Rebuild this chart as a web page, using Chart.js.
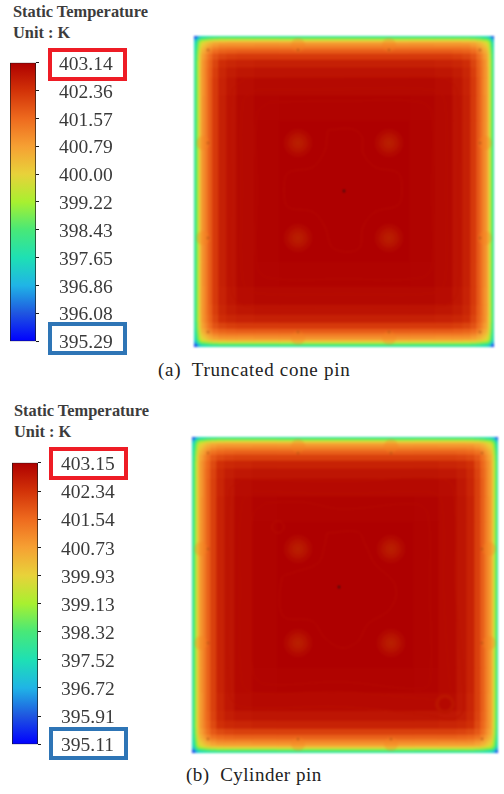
<!DOCTYPE html>
<html><head><meta charset="utf-8">
<script src="https://cdn.jsdelivr.net/npm/chart.js@4"></script>
<style>
html,body{margin:0;padding:0;background:#fff;width:504px;height:794px;overflow:hidden}
canvas{position:absolute;display:block}
.t{position:absolute;font-family:"Liberation Serif",serif;white-space:pre}
.title{font-weight:bold;font-size:16.4px;color:#3c3c3c;line-height:21px}
.cap{font-size:19px;color:#222}
.box{position:absolute;box-sizing:border-box;border-width:4px;border-style:solid;z-index:3}
.red{border-color:#ee1c25}.blue{border-color:#2e75b6}
.field{filter:blur(.9px)}
</style></head><body>
<div class="t title" style="left:13px;top:1px">Static Temperature
Unit : K</div>
<div class="t title" style="left:14px;top:400px">Static Temperature
Unit : K</div>
<div class="box red" style="left:48px;top:48px;width:79px;height:33px"></div>
<div class="box blue" style="left:48px;top:322px;width:79px;height:33px"></div>
<div class="box red" style="left:49px;top:447px;width:79px;height:33px"></div>
<div class="box blue" style="left:49px;top:727px;width:79px;height:33px"></div>
<div class="t cap" style="left:158px;top:359px;letter-spacing:.7px">(a)  Truncated cone pin</div>
<div class="t cap" style="left:186px;top:764px;letter-spacing:.5px">(b)  Cylinder pin</div>
<canvas id="barA" width="130" height="342" style="left:0;top:31px"></canvas>
<canvas id="barB" width="132" height="345" style="left:0;top:431px"></canvas>
<canvas id="fieldA" class="field" width="300" height="311" style="left:194px;top:36px"></canvas>
<canvas id="fieldB" class="field" width="306" height="316" style="left:192px;top:437px"></canvas>
<script>
const ticksA=[403.14,402.36,401.57,400.79,400.00,399.22,398.43,397.65,396.86,396.08,395.29];
const ticksB=[403.15,402.34,401.54,400.73,399.93,399.13,398.32,397.52,396.72,395.91,395.11];
const rampColours=['#0000ff','#1f55e0','#20b4e6','#1ee0b4','#48e878','#a8f030','#e8d23a','#f6a033','#ee6a1e','#d23208','#ae0000'];

const xEdgesA=[0,2,4,6,8,11,14,18,24,32,42,60,85,215,240,258,268,276,282,286,289,292,294,296,298,300];
const yEdgesA=[0,2,4,6,8,11,14,18,24,32,42,60,85,226,251,269,279,287,293,297,300,303,305,307,309,311];
const xEdgesB=[0,2,4,6,8,11,14,18,24,32,42,60,85,221,246,264,274,282,288,292,295,298,300,302,304,306];
const yEdgesB=[0,2,4,6,8,11,14,18,24,32,42,60,85,231,256,274,284,292,298,302,305,308,310,312,314,316];

const tempA=[
[395.9,396.5,397.1,397.45,397.6,397.7,397.8,397.9,398,398,398,398,398,398,398,398,398,397.9,397.8,397.7,397.6,397.45,397.1,396.5,395.9],
[396.5,397.3,397.95,398.35,398.5,398.65,398.8,398.9,399,399,399,399,399,399,399,399,399,398.9,398.8,398.65,398.5,398.35,397.95,397.3,396.5],
[397.1,397.95,398.7,399.15,399.35,399.55,399.7,399.9,399.95,400,400,400,400,400,400,400,399.95,399.9,399.7,399.55,399.35,399.15,398.7,397.95,397.1],
[397.45,398.35,399.15,399.7,399.9,400.15,400.35,400.55,400.65,400.7,400.7,400.7,400.7,400.7,400.7,400.7,400.65,400.55,400.35,400.15,399.9,399.7,399.15,398.35,397.45],
[397.6,398.5,399.35,399.9,400.15,400.4,400.65,400.85,401,401,401,401.05,401.05,401.05,401,401,401,400.85,400.65,400.4,400.15,399.9,399.35,398.5,397.6],
[397.7,398.65,399.55,400.15,400.4,400.7,400.95,401.2,401.35,401.4,401.4,401.4,401.4,401.4,401.4,401.4,401.35,401.2,400.95,400.7,400.4,400.15,399.55,398.65,397.7],
[397.8,398.8,399.7,400.35,400.65,400.95,401.25,401.55,401.7,401.75,401.8,401.8,401.8,401.8,401.8,401.75,401.7,401.55,401.25,400.95,400.65,400.35,399.7,398.8,397.8],
[397.9,398.9,399.9,400.55,400.85,401.2,401.55,401.9,402.1,402.2,402.25,402.25,402.25,402.25,402.25,402.2,402.1,401.9,401.55,401.2,400.85,400.55,399.9,398.9,397.9],
[398,399,399.95,400.65,401,401.35,401.7,402.1,402.45,402.55,402.6,402.64,402.64,402.64,402.6,402.55,402.45,402.1,401.7,401.35,401,400.65,399.95,399,398],
[398,399,400,400.7,401,401.4,401.75,402.2,402.55,402.7,402.8,402.84,402.84,402.84,402.8,402.7,402.55,402.2,401.75,401.4,401,400.7,400,399,398],
[398,399,400,400.7,401,401.4,401.8,402.25,402.6,402.8,402.95,403,403,403,402.95,402.8,402.6,402.25,401.8,401.4,401,400.7,400,399,398],
[398,399,400,400.7,401.05,401.4,401.8,402.25,402.64,402.84,403,403.08,403.1,403.08,403,402.84,402.64,402.25,401.8,401.4,401.05,400.7,400,399,398],
[398,399,400,400.7,401.05,401.4,401.8,402.25,402.64,402.84,403,403.1,403.14,403.1,403,402.84,402.64,402.25,401.8,401.4,401.05,400.7,400,399,398],
[398,399,400,400.7,401.05,401.4,401.8,402.25,402.64,402.84,403,403.08,403.1,403.08,403,402.84,402.64,402.25,401.8,401.4,401.05,400.7,400,399,398],
[398,399,400,400.7,401,401.4,401.8,402.25,402.6,402.8,402.95,403,403,403,402.95,402.8,402.6,402.25,401.8,401.4,401,400.7,400,399,398],
[398,399,400,400.7,401,401.4,401.75,402.2,402.55,402.7,402.8,402.84,402.84,402.84,402.8,402.7,402.55,402.2,401.75,401.4,401,400.7,400,399,398],
[398,399,399.95,400.65,401,401.35,401.7,402.1,402.45,402.55,402.6,402.64,402.64,402.64,402.6,402.55,402.45,402.1,401.7,401.35,401,400.65,399.95,399,398],
[397.9,398.9,399.9,400.55,400.85,401.2,401.55,401.9,402.1,402.2,402.25,402.25,402.25,402.25,402.25,402.2,402.1,401.9,401.55,401.2,400.85,400.55,399.9,398.9,397.9],
[397.8,398.8,399.7,400.35,400.65,400.95,401.25,401.55,401.7,401.75,401.8,401.8,401.8,401.8,401.8,401.75,401.7,401.55,401.25,400.95,400.65,400.35,399.7,398.8,397.8],
[397.7,398.65,399.55,400.15,400.4,400.7,400.95,401.2,401.35,401.4,401.4,401.4,401.4,401.4,401.4,401.4,401.35,401.2,400.95,400.7,400.4,400.15,399.55,398.65,397.7],
[397.6,398.5,399.35,399.9,400.15,400.4,400.65,400.85,401,401,401,401.05,401.05,401.05,401,401,401,400.85,400.65,400.4,400.15,399.9,399.35,398.5,397.6],
[397.45,398.35,399.15,399.7,399.9,400.15,400.35,400.55,400.65,400.7,400.7,400.7,400.7,400.7,400.7,400.7,400.65,400.55,400.35,400.15,399.9,399.7,399.15,398.35,397.45],
[397.1,397.95,398.7,399.15,399.35,399.55,399.7,399.9,399.95,400,400,400,400,400,400,400,399.95,399.9,399.7,399.55,399.35,399.15,398.7,397.95,397.1],
[396.5,397.3,397.95,398.35,398.5,398.65,398.8,398.9,399,399,399,399,399,399,399,399,399,398.9,398.8,398.65,398.5,398.35,397.95,397.3,396.5],
[395.8,396.5,397.1,397.45,397.6,397.7,397.8,397.9,398,398,398,398,398,398,398,398,398,397.9,397.8,397.7,397.6,397.45,397.1,396.5,395.7]
];
const tempB=[
[395.8,396.4,397,397.35,397.5,397.6,397.7,397.8,397.9,397.9,397.9,397.9,397.9,397.9,397.9,397.9,397.9,397.8,397.7,397.6,397.5,397.35,397,396.4,395.7],
[396.4,397.2,397.85,398.25,398.4,398.55,398.7,398.8,398.9,398.9,398.9,398.9,398.9,398.9,398.9,398.9,398.9,398.8,398.7,398.55,398.4,398.25,397.85,397.2,396.4],
[397,397.85,398.6,399.05,399.25,399.45,399.6,399.8,399.85,399.9,399.9,399.9,399.9,399.9,399.9,399.9,399.85,399.8,399.6,399.45,399.25,399.05,398.6,397.85,397],
[397.35,398.25,399.05,399.6,399.8,400.05,400.25,400.45,400.55,400.6,400.6,400.6,400.6,400.6,400.6,400.6,400.55,400.45,400.25,400.05,399.8,399.6,399.05,398.25,397.35],
[397.5,398.4,399.25,399.8,400.05,400.3,400.55,400.75,400.9,400.9,400.9,400.95,400.95,400.95,400.9,400.9,400.9,400.75,400.55,400.3,400.05,399.8,399.25,398.4,397.5],
[397.6,398.55,399.45,400.05,400.3,400.6,400.85,401.1,401.25,401.3,401.3,401.3,401.3,401.3,401.3,401.3,401.25,401.1,400.85,400.6,400.3,400.05,399.45,398.55,397.6],
[397.7,398.7,399.6,400.25,400.55,400.85,401.15,401.45,401.6,401.65,401.7,401.7,401.7,401.7,401.7,401.65,401.6,401.45,401.15,400.85,400.55,400.25,399.6,398.7,397.7],
[397.8,398.8,399.8,400.45,400.75,401.1,401.45,401.8,402,402.1,402.15,402.15,402.15,402.15,402.15,402.1,402,401.8,401.45,401.1,400.75,400.45,399.8,398.8,397.8],
[397.9,398.9,399.85,400.55,400.9,401.25,401.6,402,402.4,402.5,402.55,402.6,402.6,402.6,402.55,402.5,402.4,402,401.6,401.25,400.9,400.55,399.85,398.9,397.9],
[397.9,398.9,399.9,400.6,400.9,401.3,401.65,402.1,402.5,402.68,402.78,402.82,402.82,402.82,402.78,402.68,402.5,402.1,401.65,401.3,400.9,400.6,399.9,398.9,397.9],
[397.9,398.9,399.9,400.6,400.9,401.3,401.7,402.15,402.55,402.78,402.95,403,403,403,402.95,402.78,402.55,402.15,401.7,401.3,400.9,400.6,399.9,398.9,397.9],
[397.9,398.9,399.9,400.6,400.95,401.3,401.7,402.15,402.6,402.82,403,403.08,403.1,403.08,403,402.82,402.6,402.15,401.7,401.3,400.95,400.6,399.9,398.9,397.9],
[397.9,398.9,399.9,400.6,400.95,401.3,401.7,402.15,402.6,402.82,403,403.1,403.15,403.1,403,402.82,402.6,402.15,401.7,401.3,400.95,400.6,399.9,398.9,397.9],
[397.9,398.9,399.9,400.6,400.95,401.3,401.7,402.15,402.6,402.82,403,403.08,403.1,403.08,403,402.82,402.6,402.15,401.7,401.3,400.95,400.6,399.9,398.9,397.9],
[397.9,398.9,399.9,400.6,400.9,401.3,401.7,402.15,402.55,402.78,402.95,403,403,403,402.95,402.78,402.55,402.15,401.7,401.3,400.9,400.6,399.9,398.9,397.9],
[397.9,398.9,399.9,400.6,400.9,401.3,401.65,402.1,402.5,402.68,402.78,402.82,402.82,402.82,402.78,402.68,402.5,402.1,401.65,401.3,400.9,400.6,399.9,398.9,397.9],
[397.9,398.9,399.85,400.55,400.9,401.25,401.6,402,402.4,402.5,402.55,402.6,402.6,402.6,402.55,402.5,402.4,402,401.6,401.25,400.9,400.55,399.85,398.9,397.9],
[397.8,398.8,399.8,400.45,400.75,401.1,401.45,401.8,402,402.1,402.15,402.15,402.15,402.15,402.15,402.1,402,401.8,401.45,401.1,400.75,400.45,399.8,398.8,397.8],
[397.7,398.7,399.6,400.25,400.55,400.85,401.15,401.45,401.6,401.65,401.7,401.7,401.7,401.7,401.7,401.65,401.6,401.45,401.15,400.85,400.55,400.25,399.6,398.7,397.7],
[397.6,398.55,399.45,400.05,400.3,400.6,400.85,401.1,401.25,401.3,401.3,401.3,401.3,401.3,401.3,401.3,401.25,401.1,400.85,400.6,400.3,400.05,399.45,398.55,397.6],
[397.5,398.4,399.25,399.8,400.05,400.3,400.55,400.75,400.9,400.9,400.9,400.95,400.95,400.95,400.9,400.9,400.9,400.75,400.55,400.3,400.05,399.8,399.25,398.4,397.5],
[397.35,398.25,399.05,399.6,399.8,400.05,400.25,400.45,400.55,400.6,400.6,400.6,400.6,400.6,400.6,400.6,400.55,400.45,400.25,400.05,399.8,399.6,399.05,398.25,397.35],
[397,397.85,398.6,399.05,399.25,399.45,399.6,399.8,399.85,399.9,399.9,399.9,399.9,399.9,399.9,399.9,399.85,399.8,399.6,399.45,399.25,399.05,398.6,397.85,397],
[396.4,397.2,397.85,398.25,398.4,398.55,398.7,398.8,398.9,398.9,398.9,398.9,398.9,398.9,398.9,398.9,398.9,398.8,398.7,398.55,398.4,398.25,397.85,397.2,396.4],
[395.7,396.4,397,397.35,397.5,397.6,397.7,397.8,397.9,397.9,397.9,397.9,397.9,397.9,397.9,397.9,397.9,397.8,397.7,397.6,397.5,397.35,397,396.4,395.7]
];

const pinsA=[{x:104,y:107},{x:195,y:107},{x:104,y:202},{x:195,y:202}];
const pinsB=[{x:106,y:112},{x:199,y:112},{x:106,y:206},{x:199,y:206}];
const edgePinsA=[{x:9,y:107},{x:9,y:202},{x:291,y:107},{x:291,y:202},{x:104,y:9},{x:195,y:9},{x:104,y:302},{x:195,y:302}];
const edgePinsB=[{x:9,y:112},{x:9,y:206},{x:297,y:112},{x:297,y:206},{x:106,y:9},{x:199,y:9},{x:106,y:307},{x:199,y:307}];
const marksA=[{x:14,y:14},{x:104,y:14},{x:195,y:14},{x:286,y:14},{x:14,y:107},{x:286,y:107},{x:14,y:202},{x:286,y:202},{x:14,y:296},{x:104,y:296},{x:195,y:296},{x:286,y:296}];
const marksB=[{x:16,y:16},{x:106,y:16},{x:199,y:16},{x:290,y:16},{x:16,y:112},{x:290,y:112},{x:16,y:206},{x:290,y:206},{x:16,y:302},{x:106,y:302},{x:199,y:302},{x:290,y:302}];
const centreA=[{x:150,y:155}];
const centreB=[{x:147,y:150}];
const hotSpotB=[{x:253,y:267}];
const ringB=[{x:86,y:90}];
const blobA=[[134,94],[158,93],[168,101],[169,117],[181,131],[204,137],[208,154],[204,169],[181,176],[169,191],[166,211],[154,216],[138,211],[131,191],[119,176],[94,171],[90,154],[94,137],[119,131],[131,114],[133,101],[134,94]];
const blobB=[[135,96],[166,95],[173,107],[183,127],[201,144],[204,159],[196,174],[176,187],[166,204],[150,211],[133,201],[120,184],[91,179],[90,141],[100,136],[126,126],[133,107],[135,96]];
const loopA1=[[75,66],[150,65],[226,66],[238,78],[238,154],[238,230],[226,242],[150,243],[75,242],[63,230],[63,154],[63,78],[75,66]];
const loopA2=[[62,54],[150,53],[239,54],[251,66],[252,154],[251,245],[239,257],[150,258],[62,257],[49,245],[48,154],[49,66],[62,54]];
const loopA3=[[52,42],[150,41],[249,42],[263,56],[264,154],[263,257],[249,270],[150,271],[52,270],[38,257],[37,154],[38,56],[52,42]];
const loopB1=[[73,66],[110,65],[150,72],[224,67],[236,78],[238,160],[238,245],[228,252],[150,245],[73,247],[61,235],[59,150],[61,78],[73,66]];
const loopB2=[[62,54],[150,57],[238,55],[250,66],[252,160],[258,250],[262,262],[235,262],[150,255],[62,256],[50,245],[48,150],[50,66],[62,54]];
const loopB3=[[50,42],[150,44],[250,42],[262,54],[264,160],[272,270],[262,282],[235,278],[150,270],[50,270],[38,258],[36,150],[38,54],[50,42]];

const mix=(a,b,f)=>{const p=s=>[1,3,5].map(i=>parseInt(s.substr(i,2),16));const A=p(a),B=p(b);return `rgb(${A.map((v,i)=>Math.round(v+(B[i]-v)*f)).join(',')})`;};
function colourFor(v,lo,hi){
  const s=Math.max(0,Math.min(.99999,(v-lo)/(hi-lo)))*(rampColours.length-1);
  const i=Math.floor(s);
  return mix(rampColours[i],rampColours[i+1],s-i);
}
const pts=a=>a.map(p=>({x:p[0],y:p[1]}));
const line=(a,c)=>({type:'line',data:pts(a),borderColor:c,borderWidth:1,pointRadius:0,tension:.35,fill:false,order:4});
const dots=(d,r,c,o)=>({type:'scatter',data:d,pointRadius:r,pointBorderWidth:0,borderWidth:0,backgroundColor:c,order:o});

function colourBar(id,ticks,right){
  const hi=ticks[0],lo=ticks[ticks.length-1];
  new Chart(document.getElementById(id),{
    type:'bar',
    data:{labels:['T'],datasets:[{data:[[lo,hi]],categoryPercentage:1,barPercentage:1,borderColor:'#1a1a1a',borderWidth:1,borderSkipped:false,
      backgroundColor(ctx){
        const c=ctx.chart,a=c.chartArea; if(!a) return '#a80000';
        const s=c.scales.y;
        const g=c.ctx.createLinearGradient(0,s.getPixelForValue(lo),0,s.getPixelForValue(hi));
        rampColours.forEach((col,i)=>g.addColorStop(i/(rampColours.length-1),col));
        return g;
      }}]},
    options:{responsive:false,animation:false,devicePixelRatio:1,
      layout:{autoPadding:false,padding:{left:right-26,top:0,bottom:0,right:0}},
      plugins:{legend:{display:false},tooltip:{enabled:false}},
      scales:{
        x:{display:false},
        y:{position:'right',min:lo,max:hi,
          afterBuildTicks(s){s.ticks=ticks.map(v=>({value:v}));},
          afterFit(s){s.width=94;},
          border:{display:false},
          grid:{drawOnChartArea:false,tickLength:3,color:'#1a1a1a'},
          ticks:{autoSkip:false,padding:20,labelOffset:2,color:'#3a3a3a',font:{family:'"Liberation Serif"',size:19.5},callback:v=>v.toFixed(2)}
        }}
    }});
}
function field(id,xs,ys,rows,lo,hi,pins,edgePins,marks,centre,contours,extra){
  const W=xs[xs.length-1],H=ys[ys.length-1];
  const cols=xs.slice(0,-1).map((x0,i)=>({
    type:'bar',grouped:false,order:10,
    barThickness:xs[i+1]-x0,borderWidth:0,
    data:rows.map((r,j)=>({x:(x0+xs[i+1])/2,y:[ys[j],ys[j+1]]})),
    backgroundColor:rows.map(r=>colourFor(r[i],lo,hi))
  }));
  new Chart(document.getElementById(id),{
    type:'bar',
    data:{datasets:[
      dots(centre,1.2,'#301010',0),
      ...extra,
      dots(marks,1.2,'rgba(170,80,20,.7)',1),
      dots(pins,2,'#b82000',2),
      dots(pins,6,'#b81a00',2.1),
      dots(pins,10,'#b61200',2.2),
      dots(pins,14,'#b20800',2.3),
      ...contours,
      dots(edgePins,7,'rgba(245,130,35,.32)',6),
      ...cols
    ]},
    options:{responsive:false,animation:false,devicePixelRatio:1,layout:{autoPadding:false,padding:0},
      plugins:{legend:{display:false},tooltip:{enabled:false}},
      scales:{
        x:{type:'linear',display:false,min:0,max:W,offset:false},
        y:{type:'linear',display:false,min:0,max:H,reverse:true}
      }}
  });
}
colourBar('barA',ticksA,36);
colourBar('barB',ticksB,38);
field('fieldA',xEdgesA,yEdgesA,tempA,ticksA[10],ticksA[0],pinsA,edgePinsA,marksA,centreA,
  [line(blobA,'#b60a00'),line(loopA1,'#b60a00'),line(loopA2,'#b80e00'),line(loopA3,'#bc1200')],[]);
field('fieldB',xEdgesB,yEdgesB,tempB,ticksB[10],ticksB[0],pinsB,edgePinsB,marksB,centreB,
  [line(blobB,'#b60a00'),line(loopB1,'#b60a00'),line(loopB2,'#b80e00'),line(loopB3,'#bc1200')],
  [dots(hotSpotB,6,'#b40800',.5),dots(hotSpotB,10,'#ba1400',.6),
   {type:'scatter',data:ringB,pointRadius:6,pointBorderWidth:1,pointBorderColor:'#b80e00',pointBackgroundColor:'rgba(0,0,0,0)',order:.7}]);
</script>
</body></html>
